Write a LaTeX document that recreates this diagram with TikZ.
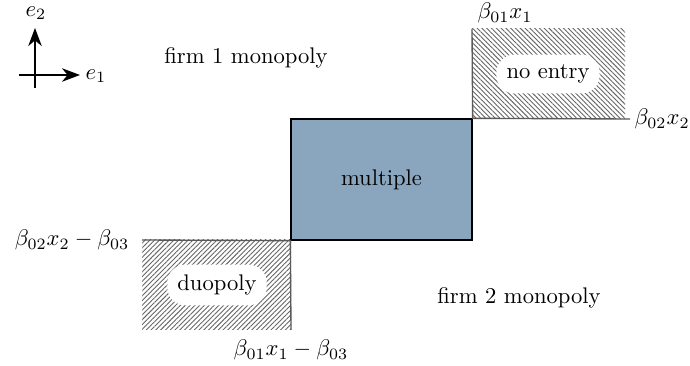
\documentclass[tikz,border=0pt]{standalone}
\usetikzlibrary{patterns.meta,arrows.meta}
\definecolor{boxblue}{RGB}{138,166,191}
\begin{document}
\begin{tikzpicture}[x=0.4425pt,y=-0.4425pt,
  edge/.style={draw=black!65,line width=0.6pt},
  lbl/.style={inner sep=1pt},
  cloud/.style={fill=white,rounded corners=8pt,inner sep=4.5pt},
  axarrow/.style={line width=0.6pt,-{Stealth[length=8pt,width=6pt,inset=2.5pt]}}]
\useasboundingbox (0,0) rectangle (690,366);
% hatched regions
\fill[pattern={Lines[angle=-45,distance=1.5pt,line width=0.4pt]},pattern color=black!60] (472,29) rectangle (625,119);
\fill[pattern={Lines[angle=45,distance=1.5pt,line width=0.4pt]},pattern color=black!60] (142,240) rectangle (291,330);
% coordinates
\coordinate (ne-top) at (472,29);
\coordinate (ne-right) at (630,119);
\coordinate (du-left) at (142,240);
\coordinate (du-bottom) at (291,330);
% multiple box
\node[draw=black,line width=0.6pt,fill=boxblue,minimum width=181*0.4425pt,minimum height=121*0.4425pt,inner sep=0pt] (mult) at (381.5,179.5) {multiple};
\draw[edge] (ne-top) -- (mult.north east) -- (ne-right);
\draw[edge] (du-left) -- (mult.south west) -- (du-bottom);
% labels
\node[cloud] (noentry) at (548,74) {no entry};
\node[cloud] (duop) at (217,285) {duopoly};
\node[lbl] (l1) at (505,13) {$\beta_{01}x_1$};
\node[lbl,anchor=west] (l2) at (632,119) {$\beta_{02}x_2$};
\node[lbl,anchor=east] (l3) at (132,240) {$\beta_{02}x_2-\beta_{03}$};
\node[lbl] (l4) at (291,350) {$\beta_{01}x_1-\beta_{03}$};
\node (f1) at (246,58) {firm 1 monopoly};
\node (f2) at (519,298) {firm 2 monopoly};
% axes
\coordinate (ob) at (35,88);
\coordinate (ol) at (19,75);
\coordinate (yt) at (35,28);
\coordinate (xt) at (80,75);
\draw[axarrow] (ob) -- (yt);
\draw[axarrow] (ol) -- (xt);
\node (e2) at (36,13) {$e_2$};
\node[anchor=west,inner sep=1pt] (e1) at (83,76) {$e_1$};
\end{tikzpicture}
\end{document}
